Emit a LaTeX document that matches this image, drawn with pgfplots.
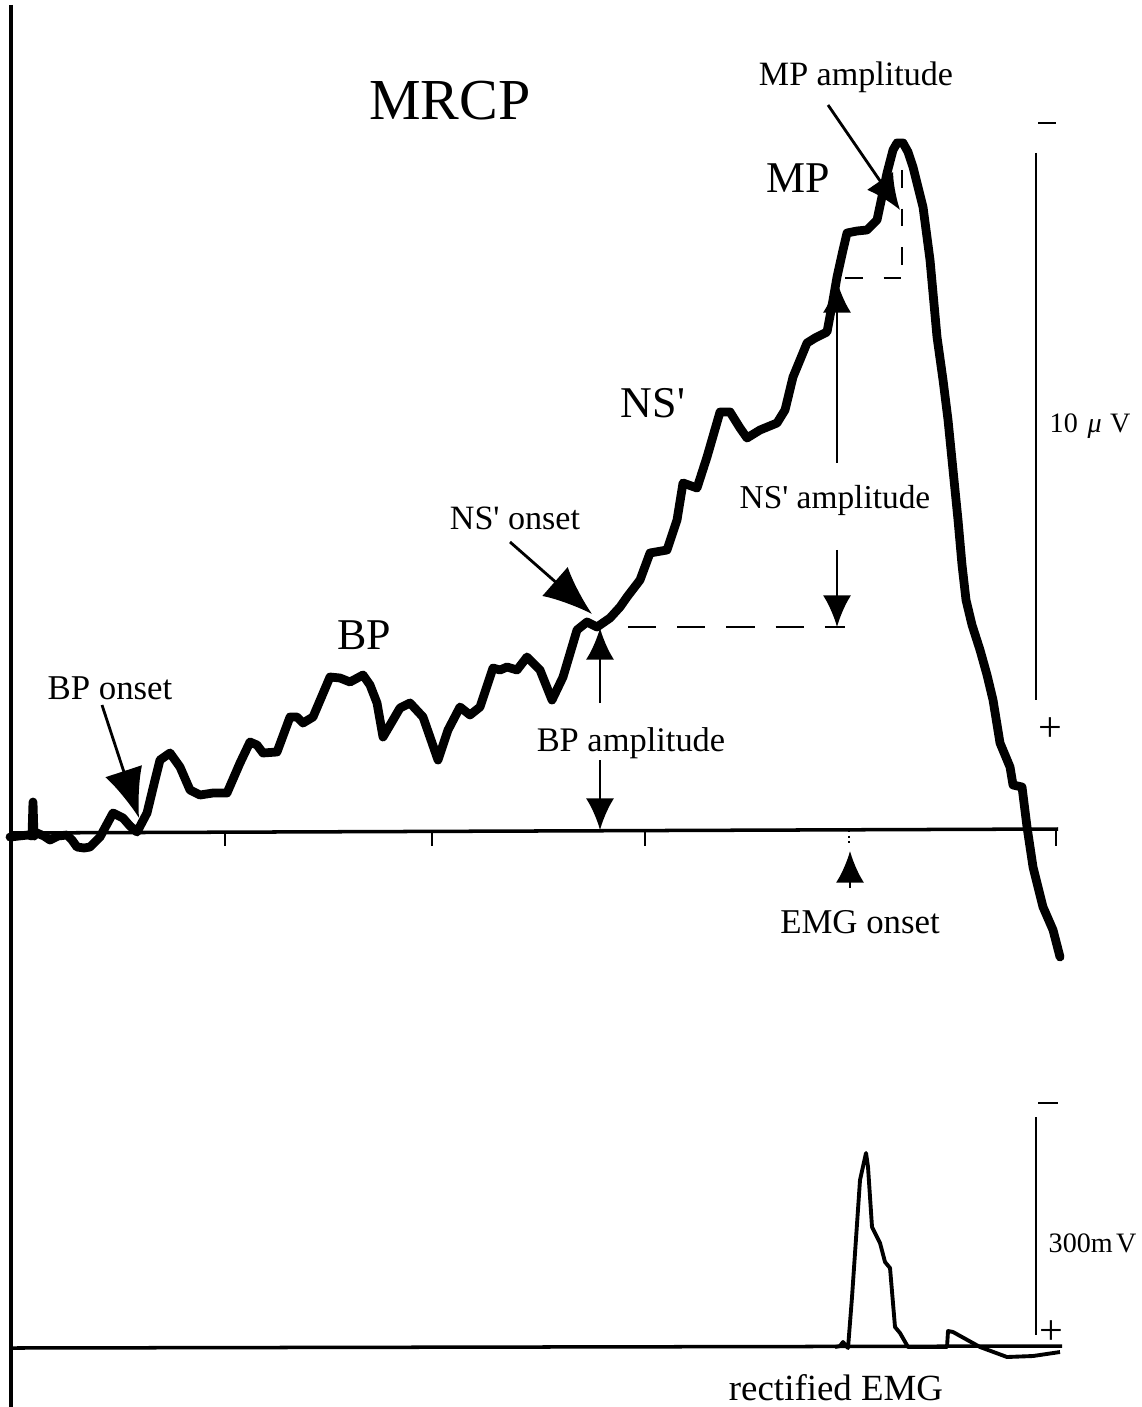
\documentclass[border=0pt]{standalone}
\usepackage{pgfplots}
\pgfplotsset{compat=1.18}
\usepackage{fontspec}
\setmainfont{Liberation Serif}[Ligatures=TeXOff]
\usetikzlibrary{arrows.meta}
\begin{document}
\begin{tikzpicture}
\begin{axis}[
  scale only axis, width=11.41cm, height=14.07cm,
  xmin=0, xmax=1141, ymin=0, ymax=1407, y dir=reverse,
  hide axis, clip=false]
% left vertical line
\draw[line width=1.1pt] (axis cs:11,5) -- (axis cs:11,1407);
% MRCP baseline with ticks
\draw[line width=1pt] (axis cs:11,833) -- (axis cs:1058,829);
\draw[line width=0.8pt] (axis cs:225,832) -- (axis cs:225,846);
\draw[line width=0.8pt] (axis cs:432,831) -- (axis cs:432,846);
\draw[line width=0.8pt] (axis cs:645,831) -- (axis cs:645,846);
\draw[line width=0.8pt] (axis cs:1056,829) -- (axis cs:1056,846);
\draw[line width=0.6pt, densely dotted] (axis cs:849,830) -- (axis cs:849,846);
% MRCP waveform
\addplot[black, line width=2.5pt, line join=round, line cap=round] coordinates {
(10,837)(28,835)(32,836)(33,802)(34,836)(37,833)(44,836)(50,840)(58,836)(67,835)(72,840)(77,847)(84,848)(90,847)
(100,837)(113,813)(123,818)(130,826)(137,832)(147,813)(155,780)(160,760)(170,753)(180,767)(190,790)(200,795)
(213,793)(227,793)(240,763)(250,742)(257,745)(263,753)(277,752)(290,717)(297,717)(303,723)(313,717)
(330,677)(340,678)(350,682)(363,675)(370,685)(377,703)(383,737)(393,720)(400,708)(410,703)(423,717)(438,760)
(448,730)(460,707)(470,715)(480,707)(493,668)(500,670)(507,667)(517,670)(527,657)(540,670)(552,700)(563,677)
(577,630)(587,622)(597,627)(610,618)(620,607)(627,597)(640,580)(650,553)(667,550)(677,520)(683,483)
(697,488)(707,457)(720,412)(730,412)(740,428)(747,438)(760,430)(777,423)(785,410)(793,377)(807,343)
(815,338)(827,332)(833,300)(837,277)(843,250)(847,233)(857,231)(867,230)(877,220)(887,173)(893,150)(897,143)
(903,143)(908,152)(913,167)(923,207)(930,260)(937,337)(943,380)(948,420)(953,470)(958,520)(962,565)(966,600)
(972,625)(980,650)(987,675)(993,700)(1000,743)(1010,767)(1013,785)(1022,787)(1027,827)(1033,867)
(1043,907)(1053,930)(1060,957)};
% BP onset arrow
\draw[line width=0.8pt, -{Latex[length=14pt,width=11pt]}] (axis cs:102,705) -- (axis cs:139,818);
% NS' onset arrow
\draw[line width=0.8pt, -{Latex[length=14pt,width=11pt]}] (axis cs:510,542) -- (axis cs:592,614);
% BP amplitude
\draw[line width=0.8pt, -{Latex[length=9pt,width=8pt]}] (axis cs:600,703) -- (axis cs:600,628);
\draw[line width=0.8pt, -{Latex[length=9pt,width=8pt]}] (axis cs:600,760) -- (axis cs:600,830);
% NS' dashed horizontal
\draw[line width=0.8pt, dash pattern=on 8pt off 6pt] (axis cs:628,627) -- (axis cs:845,627);
% NS' amplitude vertical arrows
\draw[line width=0.8pt, -{Latex[length=9pt,width=8pt]}] (axis cs:837,463) -- (axis cs:837,281);
\draw[line width=0.8pt, -{Latex[length=9pt,width=8pt]}] (axis cs:837,550) -- (axis cs:837,627);
% MP dashed lines
\draw[line width=0.8pt, dash pattern=on 5pt off 6pt] (axis cs:845,278) -- (axis cs:907,278);
\draw[line width=0.8pt, dash pattern=on 5pt off 6pt] (axis cs:902,170) -- (axis cs:902,278);
\draw[line width=0.8pt, -{Latex[length=10pt,width=9pt]}] (axis cs:828,105) -- (axis cs:900,210);
% EMG onset arrow
\draw[line width=0.8pt, -{Latex[length=9pt,width=8pt]}] (axis cs:850,888) -- (axis cs:850,851);
% upper scale bar
\draw[line width=0.8pt] (axis cs:1036,153) -- (axis cs:1036,700);
\draw[line width=0.8pt] (axis cs:1038,123) -- (axis cs:1056,123);
\node[font=\fontsize{12pt}{12pt}\selectfont] at (axis cs:1050,730) {+};
\node[anchor=west, inner sep=0pt, font=\fontsize{8pt}{9pt}\selectfont] at (axis cs:1049,426) {10\hspace{0.35em}\textit{μ}\hspace{0.3em}V};
% lower scale bar
\draw[line width=0.8pt] (axis cs:1036,1117) -- (axis cs:1036,1335);
\draw[line width=0.8pt] (axis cs:1038,1103) -- (axis cs:1058,1103);
\node[font=\fontsize{12pt}{12pt}\selectfont] at (axis cs:1051,1333) {+};
\node[anchor=west, inner sep=0pt, font=\fontsize{8pt}{9pt}\selectfont] at (axis cs:1048,1243) {300m\hspace{0.12em}V};
% EMG baseline
\draw[line width=1pt] (axis cs:11,1348) -- (axis cs:1062,1346);
% rectified EMG trace
\addplot[black, line width=1.1pt, line join=round] coordinates {
(835,1347)(840,1346)(843,1342)(848,1348)(852,1297)(860,1180)(866,1153)(868,1167)(872,1227)(880,1243)
(885,1262)(890,1268)(895,1327)(900,1333)(908,1347)(947,1347)(948,1331)(953,1332)(980,1347)
(1007,1357)(1033,1356)(1060,1352)};
% labels
\node[font=\fontsize{16.5pt}{18pt}\selectfont] at (axis cs:450,101) {MRCP};
\node[font=\fontsize{12.5pt}{14pt}\selectfont] at (axis cs:798,178) {MP};
\node[font=\fontsize{12.5pt}{14pt}\selectfont] at (axis cs:653,403) {NS'};
\node[font=\fontsize{12.5pt}{14pt}\selectfont] at (axis cs:364,635) {BP};
\node[font=\fontsize{9.7pt}{11pt}\selectfont] at (axis cs:856,77) {MP amplitude};
\node[font=\fontsize{9.7pt}{11pt}\selectfont] at (axis cs:515,518) {NS' onset};
\node[font=\fontsize{9.5pt}{11pt}\selectfont] at (axis cs:835,500) {NS' amplitude};
\node[font=\fontsize{9.9pt}{11pt}\selectfont] at (axis cs:110,688) {BP onset};
\node[font=\fontsize{9.8pt}{11pt}\selectfont] at (axis cs:631,743) {BP amplitude};
\node[font=\fontsize{9.9pt}{11pt}\selectfont] at (axis cs:860,922) {EMG onset};
\node[font=\fontsize{10.5pt}{11pt}\selectfont] at (axis cs:836,1388) {rectified EMG};
\end{axis}
\pgfresetboundingbox
\path (current axis.south west) rectangle (current axis.north east);
\end{tikzpicture}
\end{document}
